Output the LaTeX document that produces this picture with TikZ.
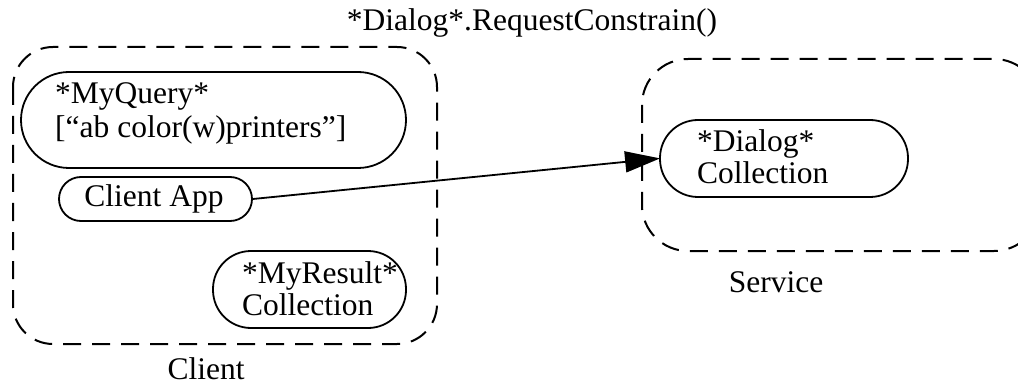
\documentclass[tikz,border=0pt]{standalone}
\usepackage{fontspec}
\setmainfont{Liberation Serif}
\usetikzlibrary{arrows.meta}
\tikzset{
  txt/.style={inner sep=0pt, anchor=base west, font=\fontsize{31.5}{34}\selectfont},
  ctr/.style={inner sep=0pt, anchor=base, font=\fontsize{31.5}{34}\selectfont},
  pill/.style={draw, line width=1.8pt, inner sep=0pt},
  group/.style={draw, line width=2pt, dash pattern=on 18pt off 11pt},
  msg/.style={line width=1.8pt, -{Triangle[length=35pt,width=21pt]}, shorten >=-1pt}
}
\begin{document}
\begin{tikzpicture}[x=1pt,y=-1pt]
  \useasboundingbox (0,0) rectangle (1018,385);
  \begin{scope}
    \clip (0,0) rectangle (1018,385);
    % dashed group outlines
    \draw[group, rounded corners=40pt] (13,47) rectangle (437,344);
    \draw[group, rounded corners=46pt] (642,59) rectangle (1040,251);
  \end{scope}

  % group captions
  \node[ctr] (title) at (532,31) {*Dialog*.RequestConstrain()};
  \node[ctr] (clientlbl) at (206,379) {Client};
  \node[ctr] (servicelbl) at (776,292) {Service};

  % rounded objects
  \draw[pill, rounded corners=48pt] (21,72) rectangle (406,168);
  \node[txt] (q1) at (55,104) {*MyQuery*};
  \node[txt] (q2) at (55,138) {[“ab color(w)printers”]};

  \node[pill, rounded corners=22pt, minimum width=193pt, minimum height=44pt] (app) at (155.5,199) {};
  \node[ctr] (apptxt) at (154,207) {Client App};

  \draw[pill, rounded corners=38pt] (213,251) rectangle (406,328);
  \node[txt] (r1) at (242,283) {*MyResult*};
  \node[txt] (r2) at (242,315) {Collection};

  \node[pill, rounded corners=38pt, minimum width=248pt, minimum height=77pt] (dlg) at (784,158.5) {};
  \node[txt] (d1) at (697,152) {*Dialog*};
  \node[txt] (d2) at (697,184) {Collection};

  % request message
  \draw[msg] (app.east) -- (dlg.west);
\end{tikzpicture}
\end{document}
